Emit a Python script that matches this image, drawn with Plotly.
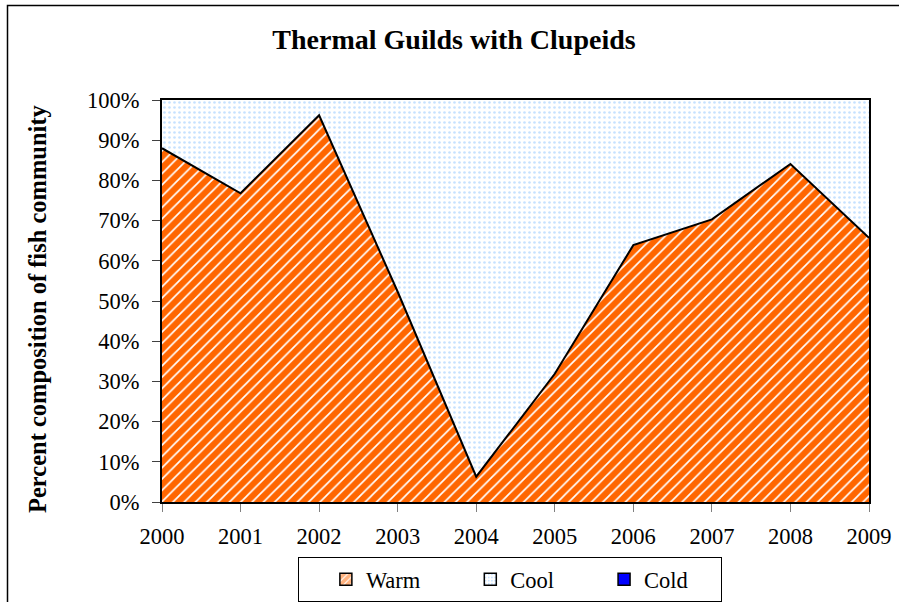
import plotly.graph_objects as go

years = [2000, 2001, 2002, 2003, 2004, 2005, 2006, 2007, 2008, 2009]
warm = [88.0, 76.8, 96.2, 52.3, 6.3, 31.9, 63.9, 70.3, 84.1, 65.7]
cool = [round(100 - w, 1) for w in warm]
cold = [0, 0, 0, 0, 0, 0, 0, 0, 0, 0]
y_ticks = list(range(0, 101, 10))
series_names = ["Warm", "Cool", "Cold"]

FONT = "Liberation Serif"
W, H = 899, 602
L, T = 162, 100
R = W - 869
B = H - 502
pw, ph = W - L - R, H - T - B

def px_x(x):
    return (x - L) / pw

def px_y(y):
    return (H - B - y) / ph

NB = "\u00a0"
warm_pat = dict(shape="/", fgcolor="#FF6600", bgcolor="white", size=8, solidity=0.79, fgopacity=1)
cool_pat = dict(shape=".", fgcolor="#8EC3FF", bgcolor="white", size=5, solidity=0.22)

fig = go.Figure()
fig.add_trace(go.Scatter(x=years, y=warm, stackgroup="one", mode="lines",
                         line=dict(color="black", width=2), fillcolor="white",
                         fillpattern=warm_pat, showlegend=False, name=series_names[0]))
fig.add_trace(go.Scatter(x=years, y=cool, stackgroup="one", mode="lines",
                         line=dict(color="black", width=0), fillcolor="white",
                         fillpattern=cool_pat, showlegend=False, name=series_names[1]))
fig.add_trace(go.Scatter(x=years, y=cold, stackgroup="one", mode="lines",
                         line=dict(color="#0000FF", width=0), fillcolor="#0000FF",
                         showlegend=False, name=series_names[2]))

# legend swatches
pads = [8, 8, 5]
for name, pat, col, pad in zip(series_names, [warm_pat, cool_pat, None], ["white", "white", "#0000FF"], pads):
    marker = dict(color=col, line=dict(color="black", width=1.5))
    if pat:
        marker["pattern"] = dict(shape=pat["shape"], fgcolor=pat["fgcolor"], bgcolor="white",
                                 size=6 if pat["shape"] == "/" else 4,
                                 solidity=0.8 if pat["shape"] == "/" else 0.25)
    fig.add_trace(go.Bar(x=[None], y=[None], name=name + NB * pad, marker=marker, showlegend=True))

fig.update_layout(
    width=W, height=H,
    margin=dict(l=L, r=R, t=T, b=B, autoexpand=False),
    paper_bgcolor="white", plot_bgcolor="white",
    font=dict(family=FONT, size=22, color="black"),
    title=dict(text="<b>Thermal Guilds with Clupeids</b>", x=454 / W, xanchor="center",
               y=1 - 39 / H, yanchor="middle", font=dict(family=FONT, size=28, color="black")),
    showlegend=True,
    legend=dict(orientation="h", x=px_x(298), xanchor="left", y=px_y(557), yanchor="top",
                traceorder="normal",
                title=dict(text=NB * 3, side="left", font=dict(family=FONT, size=22.5)),
                bordercolor="black", borderwidth=1, bgcolor="white",
                font=dict(family=FONT, size=22.5, color="black")),
    xaxis=dict(range=[2000, 2009], tickmode="array", tickvals=years, ticktext=[str(y) for y in years],
               showgrid=False, zeroline=False, showline=True, linecolor="black", linewidth=2,
               mirror=True, ticks="outside", ticklen=8, tickcolor="#808080", tickwidth=1,
               automargin=False, ticklabeloverflow="allow",
               ticklabelstandoff=5, tickfont=dict(family=FONT, size=22.5)),
    yaxis=dict(range=[0, 100], tickmode="array", tickvals=y_ticks, ticktext=[f"{v}%" for v in y_ticks],
               showgrid=False, zeroline=False, showline=True, linecolor="black", linewidth=2,
               mirror=True, ticks="outside", ticklen=8, tickcolor="#404040", tickwidth=1,
               automargin=False,
               ticklabelstandoff=8, tickfont=dict(family=FONT, size=22.5)),
    annotations=[dict(text="<b>Percent composition of fish community</b>", textangle=-90,
                      xref="paper", yref="paper", x=px_x(37), y=px_y(309),
                      xanchor="center", yanchor="middle", showarrow=False,
                      font=dict(family=FONT, size=24.5, color="black"))],
    shapes=[dict(type="path", xref="paper", yref="paper",
                 path=f"M {px_x(7.5)},{px_y(H + 50)} L {px_x(7.5)},{px_y(5.5)} L {px_x(W + 50)},{px_y(5.5)}",
                 line=dict(color="black", width=1.5))],
)

fig.write_html("out.html", config={"displayModeBar": False},
               post_script="document.body.style.margin='0';document.body.style.overflow='hidden';")
